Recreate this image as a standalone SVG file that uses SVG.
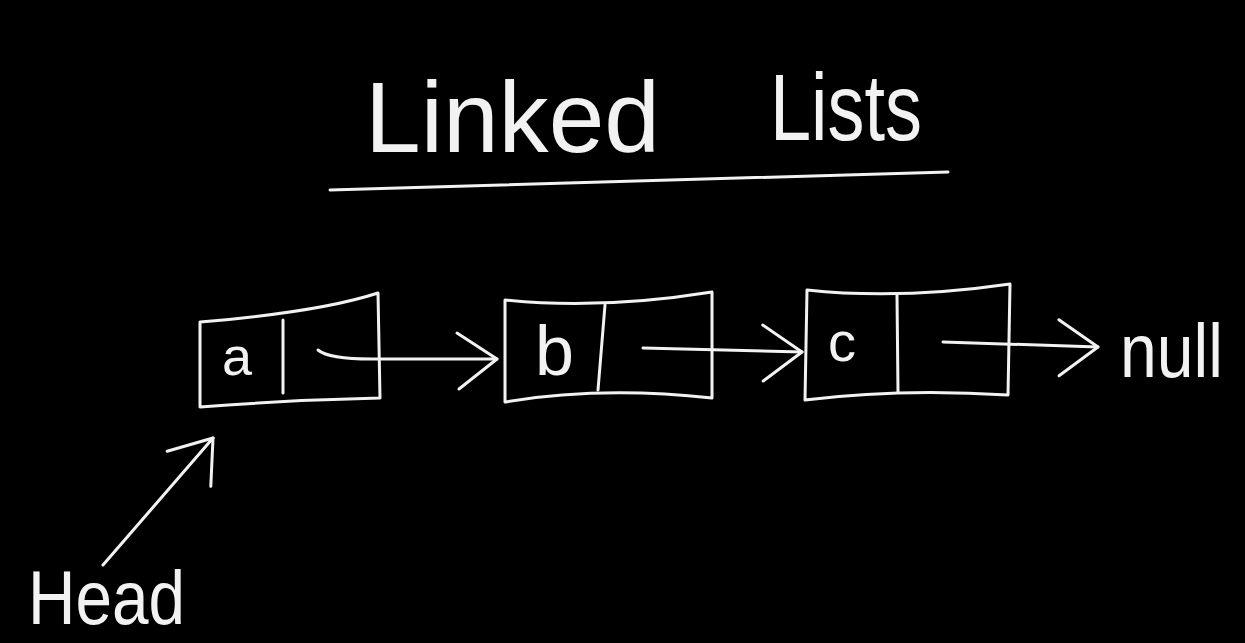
<svg xmlns="http://www.w3.org/2000/svg" width="1245" height="643" viewBox="0 0 1245 643">
<defs>
<style>
.ink{fill:none;stroke:#f2f2f2;stroke-width:3;stroke-linecap:round;stroke-linejoin:round}
.txt{fill:#f2f2f2;font-family:"Liberation Sans","DejaVu Sans",sans-serif}
</style>
<marker id="chev" markerUnits="userSpaceOnUse" markerWidth="80" markerHeight="80" refX="0" refY="0" viewBox="-50 -40 60 80" orient="auto" overflow="visible">
<path d="M-40,-26 L0,0 L-38,30" fill="none" stroke="#f2f2f2" stroke-width="3" stroke-linecap="round" stroke-linejoin="round"/>
</marker>
</defs>
<rect width="1245" height="643" fill="#000"/>
<g id="title">
<text class="txt" x="365" y="152" font-size="100" textLength="295" lengthAdjust="spacingAndGlyphs">Linked</text>
<text class="txt" x="770" y="140" font-size="95" textLength="152" lengthAdjust="spacingAndGlyphs">Lists</text>
<path class="ink" d="M330,190 L948,172"/>
</g>
<g id="node-a">
<path class="ink" d="M200,322 Q320,312 378,293 L380,398 Q290,400 200,407 Z"/>
<path class="ink" d="M283,320 L283,393"/>
<text class="txt" x="222" y="375" font-size="54">a</text>
</g>
<g id="node-b">
<path class="ink" d="M505,300 Q600,310 712,292 L712,398 Q600,386 505,402 Z"/>
<path class="ink" d="M605,305 L598,390"/>
<text class="txt" x="535" y="375" font-size="70">b</text>
</g>
<g id="node-c">
<path class="ink" d="M807,290 Q900,300 1010,284 L1008,395 Q900,388 805,400 Z"/>
<path class="ink" d="M897,295 L898,392"/>
<text class="txt" x="828" y="361" font-size="56">c</text>
</g>
<g id="null">
<text class="txt" x="1120" y="377" font-size="76" textLength="103" lengthAdjust="spacingAndGlyphs">null</text>
</g>
<g id="head">
<text class="txt" x="28" y="624" font-size="76" textLength="157" lengthAdjust="spacingAndGlyphs">Head</text>
</g>
<g id="connectors">
<path class="ink" d="M318,350 Q330,360 380,359 L497,359" marker-end="url(#chev)"/>
<path class="ink" d="M643,348 L802,352" marker-end="url(#chev)"/>
<path class="ink" d="M943,342 L1098,347" marker-end="url(#chev)"/>
<path class="ink" d="M103,565 L213,438" marker-end="url(#chev)"/>
</g>
</svg>
